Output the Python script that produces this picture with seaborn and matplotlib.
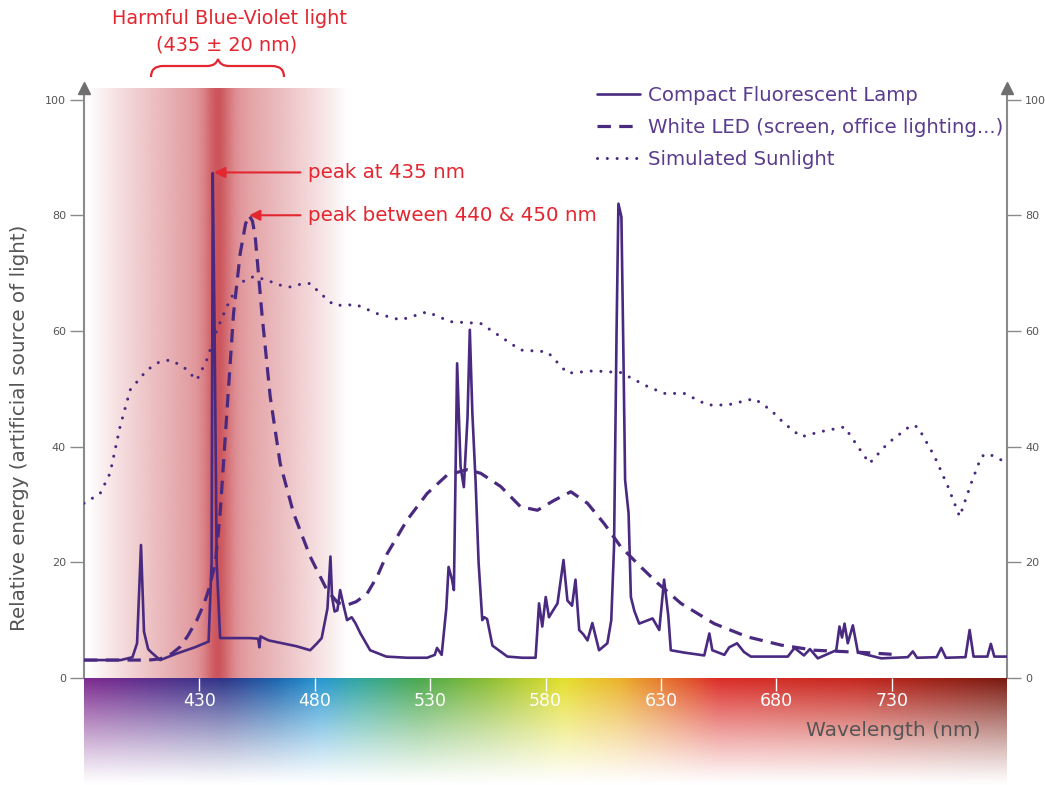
import numpy as np
import matplotlib
matplotlib.use("Agg")
import matplotlib.pyplot as plt
import seaborn as sns
from matplotlib.path import Path
from matplotlib.patches import PathPatch
from matplotlib.colors import LinearSegmentedColormap, to_rgb

# ---------------- data ----------------
cfl_nm = [380, 396, 401, 403, 404.7, 406, 407.8, 409, 413, 420, 428, 434, 435.3, 435.8, 436.6, 437.5,
          439, 445, 452, 455.5, 456, 456.5, 460, 466, 472, 478, 481, 483, 485.5, 486.8, 487.5, 488.6,
          489.8, 491, 492.5, 494, 496, 497.6, 499.8, 504, 511, 520, 528.7, 532, 533, 535, 537, 538,
          539.5, 540.3, 541.7, 543.2, 544.6, 546.2, 547.2, 548.3, 549.7, 551, 552.6, 553.5, 554.7, 557,
          563.5, 570, 575.7, 577.2, 578.6, 580.1, 581.5, 583, 585.2, 587.8, 589.5, 591.5, 593, 594.6,
          596.5, 598.2, 600.3, 603.2, 606.8, 608.5, 609.7, 610.8, 611.6, 612.9, 613.8, 614.5, 616, 617,
          618.5, 620.6, 626.4, 629.3, 631.4, 633.2, 634.3, 640, 648.8, 651, 652.3, 657.5, 659.6, 663,
          666, 669, 685, 687.9, 692, 694.6, 698, 706, 707.4, 708.5, 709.6, 711, 713.2, 715.4, 725.5,
          737, 739.2, 741, 749.5, 751.5, 753.5, 762, 763.8, 765.5, 771.5, 773, 774.5, 780]
cfl_val = [3.1, 3.1, 3.6, 6, 23, 8, 5, 4.5, 3.1, 4.2, 5.3, 6.3, 20, 87.3, 60, 20,
           6.9, 6.9, 6.9, 6.8, 5.3, 7.2, 6.5, 6.0, 5.5, 4.8, 6, 6.9, 12, 21, 14, 11.5,
           11.7, 15.2, 12.5, 10, 10.5, 9.5, 7.7, 4.8, 3.7, 3.5, 3.5, 4, 5.2, 4, 12, 19.2,
           17, 15.2, 54.4, 36.5, 33, 45, 60.2, 45.8, 34, 20, 10, 10.5, 10.2, 5.6,
           3.7, 3.5, 3.5, 12.9, 8.9, 14, 10.5, 11.5, 12.9, 20.4, 13.4, 12.5, 17, 8.3,
           7.5, 6.5, 9.5, 4.8, 6, 10, 22.7, 60, 82, 79.7, 55, 34.2, 28.5, 14,
           11.6, 9.4, 10.3, 8.3, 17, 10.8, 4.8, 4.4, 3.9, 7.7, 4.8, 4, 5.3, 6,
           4.5, 3.7, 3.7, 5.2, 3.9, 5, 3.4, 4.8, 8.9, 7, 9.4, 6, 9.1, 4.4, 3.4,
           3.6, 4.6, 3.5, 3.6, 5.2, 3.5, 3.6, 8.3, 3.7, 3.7, 5.9, 3.7, 3.7]

led_nm = [380, 408, 413, 418, 421.7, 425, 428.9, 432, 434, 436.9, 439, 441.9, 444.8, 447.7, 450,
          451.5, 453, 454.2, 457.1, 460.7, 465, 470.8, 478, 485.3, 490, 494, 498, 502.7, 507, 511.4,
          520, 528.7, 537.4, 546, 551.9, 560.6, 569.2, 576.5, 583.7, 591, 598.2, 605.4, 612.6, 621.3,
          628.6, 638.7, 653.1, 667.6, 682, 696.5, 718.2, 730]
led_val = [3.1, 3.1, 3.3, 4.2, 5.4, 7.3, 10, 12.8, 15.2, 19.8, 28.5, 45.8, 63, 73.4, 78.5,
           80, 79, 76.3, 63, 48.6, 37.1, 28.5, 21, 15.2, 13, 12.6, 13.2, 14.6, 17.5, 21.5,
           27.3, 31.9, 35.1, 36, 35.4, 33.1, 29.6, 29, 30.7, 32.2, 30.2, 26.7, 22.7, 19.2,
           16.4, 12.9, 9.4, 7.1, 5.7, 4.8, 4.4, 4.1]

sun_nm = [380, 387, 391.3, 395.6, 400, 407.2, 412, 417.3, 423.1, 428.9, 433.2, 437.6, 441.9, 447,
          453.5, 459.3, 464, 469.4, 475, 478, 482.4, 488.2, 493, 497.6, 507, 517.2, 528.7, 538.8,
          551.9, 560.6, 569.2, 580.8, 589.5, 601, 612.6, 624.2, 631.4, 640.1, 650.2, 658.9, 670.5,
          677.7, 683.5, 690.8, 699.4, 709.6, 715.4, 720.4, 728.4, 738.5, 741.4, 748.6, 754.4, 759.5,
          764.5, 768.9, 771.8, 779]
sun_val = [30.2, 31.9, 35.4, 43.4, 49.8, 53.2, 54.5, 55, 53.8, 51.5, 55, 60.2, 64.2, 68.2,
           69.4, 68.8, 68, 67.6, 68.2, 68.2, 66.5, 64.5, 64.4, 64.6, 63, 61.9, 63.3, 61.6,
           61.3, 59, 56.7, 56.4, 52.7, 53.1, 52.8, 50.4, 49.2, 49.2, 47.2, 47.2, 48.3,
           46.3, 44, 41.7, 42.6, 43.4, 40, 37.1, 40.6, 43.7, 43.4, 38.3, 33.1, 27.9,
           33.7, 38.3, 38.8, 37.4]

series_labels = ["Compact Fluorescent Lamp", "White LED (screen, office lighting...)", "Simulated Sunlight"]
wavelength_ticks = [430, 480, 530, 580, 630, 680, 730]
energy_ticks = [0, 20, 40, 60, 80, 100]
title_lines = ["Harmful Blue-Violet light", "(435 \u00b1 20 nm)"]
peak_labels = ["peak at 435 nm", "peak between 440 & 450 nm"]
peak_points = [(436.4, 87.4), (451.6, 80.0)]

# ---------------- style ----------------
sns.set_theme(style="white")
plt.rcParams['font.family'] = ['DejaVu Sans']

LINE = "#4a2a80"
LEG_TXT = "#5b3c8e"
RED = "#e3262f"
GREY = "#8a8a8a"
TXT = "#555555"

W, H = 1045, 785
fig = plt.figure(figsize=(W / 100, H / 100), dpi=100)
fig.patch.set_facecolor("white")


def fx(px):
    return px / W


def fy(py):
    return 1 - py / H


XMIN, XMAX, YMAX = 380, 780, 102
ax = fig.add_axes([fx(84), fy(678), fx(1007) - fx(84), fy(88) - fy(678)])
ax.set_facecolor("none")

# red band (harmful blue light zone)
band_x = np.linspace(380, 500, 800)
d = band_x - 438
dn = np.where(d < 0, -d / 56, d / 56)
alpha = 0.28 * np.exp(-(d / 6.0) ** 2) + 0.64 * np.clip(1 - dn, 0, 1) ** 0.9
rgba = np.zeros((1, band_x.size, 4))
rgba[..., :3] = to_rgb("#c8444c")
rgba[..., 3] = np.clip(alpha, 0, 1)
ax.imshow(rgba, extent=[380, 500, 0, YMAX], aspect="auto", zorder=0, interpolation="bilinear")

# curves
sns.lineplot(x=cfl_nm, y=cfl_val, ax=ax, color=LINE, lw=1.9, estimator=None, sort=False,
             label=series_labels[0], zorder=4)
sns.lineplot(x=led_nm, y=led_val, ax=ax, color=LINE, lw=2.3, estimator=None, sort=False,
             linestyle=(0, (4.2, 2.6)), label=series_labels[1], zorder=3)
sns.lineplot(x=sun_nm, y=sun_val, ax=ax, color=LINE, lw=2.2, estimator=None, sort=False,
             linestyle=(0, (0.01, 3.2)), dash_capstyle="round", label=series_labels[2], zorder=3)

ax.set_xlim(XMIN, XMAX)
ax.set_ylim(0, YMAX)
ax.set_xticks([])
ax.set_yticks(energy_ticks)
ax.set_yticklabels([str(v) for v in energy_ticks])
for s in ["top", "bottom"]:
    ax.spines[s].set_visible(False)
for s in ["left", "right"]:
    ax.spines[s].set_visible(True)
    ax.spines[s].set_color(GREY)
    ax.spines[s].set_linewidth(1.5)
ax.tick_params(axis="y", left=True, right=True, labelleft=True, labelright=True, direction="out",
               length=10, width=1, color=GREY, labelsize=8, labelcolor=TXT, pad=3)
ax.set_xlabel("")
ax.set_ylabel("")
ax.plot([0, 1], [1, 1], marker="^", ms=8, color="#6f6f6f", ls="none", transform=ax.transAxes,
        clip_on=False, zorder=6)

# legend
leg = ax.legend(loc="upper left", bbox_to_anchor=(fx(597), fy(86)), bbox_transform=fig.transFigure,
                frameon=False, fontsize=14.2, handlelength=2.2, handletextpad=0.4,
                labelspacing=0.65, borderpad=0, borderaxespad=0, labelcolor=LEG_TXT)

# peak annotations
text_x = 477.2
for lbl, (px_, py_) in zip(peak_labels, peak_points):
    ax.annotate("", xy=(px_, py_), xytext=(473.8, py_),
                arrowprops=dict(arrowstyle="-|>", color=RED, lw=1.5, mutation_scale=16,
                                shrinkA=0, shrinkB=0), zorder=5)
    ax.text(text_x, py_, lbl, color=RED, fontsize=14.3, va="center", ha="left", zorder=5)

# title + brace
fig.text(fx(229.5), fy(19), title_lines[0], color=RED, fontsize=13.9, ha="center", va="center")
fig.text(fx(227), fy(45), title_lines[1], color=RED, fontsize=13.9, ha="center", va="center")
brace_px = [(151, 77), (151, 66), (163, 66), (207, 66), (216, 66), (218, 59), (220, 66), (229, 66),
            (272, 66), (284, 66), (284, 77)]
codes = [Path.MOVETO, Path.CURVE3, Path.CURVE3, Path.LINETO, Path.CURVE3, Path.CURVE3,
         Path.CURVE3, Path.CURVE3, Path.LINETO, Path.CURVE3, Path.CURVE3]
verts = [(fx(a), fy(b)) for a, b in brace_px]
fig.patches.append(PathPatch(Path(verts, codes), transform=fig.transFigure, fill=False,
                             edgecolor=RED, lw=1.6))

# y label
fig.text(fx(20), fy(428), "Relative energy (artificial source of light)", rotation=90,
         fontsize=14.3, color=TXT, ha="center", va="center")

# spectrum strip
sax = fig.add_axes([fx(84), 0, fx(1007) - fx(84), fy(678)])
stops = [(380, "#7d2a8e"), (405, "#5e2d8c"), (440, "#2e3589"), (462, "#1b63ad"), (482, "#2597d2"),
         (500, "#33a79a"), (525, "#4aa84c"), (555, "#8cbd34"), (588, "#e5df2b"), (612, "#ebb22b"),
         (635, "#e56a2b"), (655, "#dc2d28"), (715, "#c5281f"), (780, "#7a1a10")]
cmap = LinearSegmentedColormap.from_list("spec", [((n - 380) / 400, c) for n, c in stops])
xs = np.linspace(380, 780, 800)
ts = np.linspace(0, 1, 150)
cols = cmap((xs - 380) / 400)[:, :3]
a = (1 - ts) ** 1.15
img = cols[None, :, :] * a[:, None, None] + (1 - a[:, None, None])
sax.imshow(img, extent=[380, 780, 0, 1], aspect="auto", origin="upper", interpolation="bilinear")
sax.set_xlim(XMIN, XMAX)
sax.set_ylim(0, 1)
sax.set_yticks([])
sax.set_xticks(wavelength_ticks)
sax.set_xticklabels([str(v) for v in wavelength_ticks])
for s in sax.spines.values():
    s.set_visible(False)
sax.tick_params(axis="x", bottom=False, labelbottom=False, top=True, labeltop=True, direction="in",
                length=9, width=1, color="white", labelcolor="white", labelsize=12.5, pad=-23)
fig.text(fx(893), fy(731), "Wavelength (nm)", fontsize=14.5, color=TXT, ha="center", va="center")

fig.savefig("out.png", dpi=100, facecolor="white")
